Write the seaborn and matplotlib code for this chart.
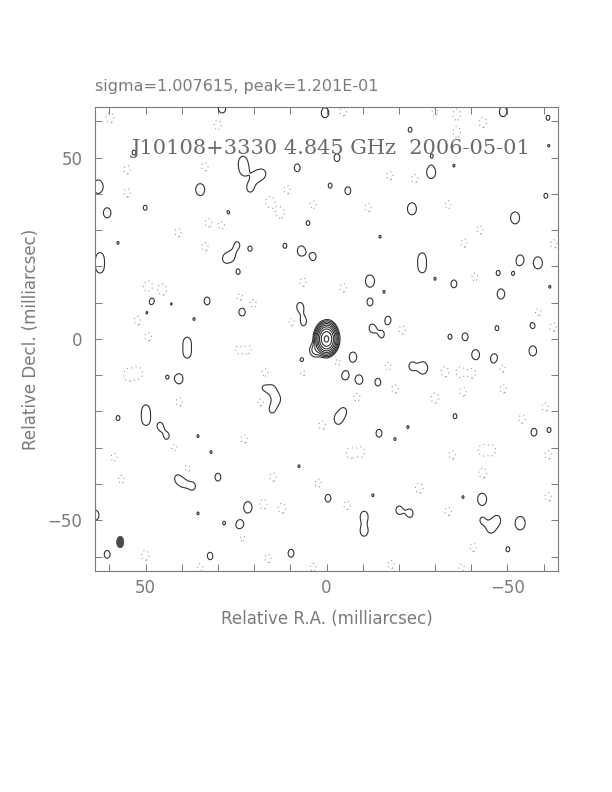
import numpy as np
import matplotlib
matplotlib.use("Agg")
import matplotlib.pyplot as plt
from matplotlib.patches import Ellipse
from matplotlib.ticker import MultipleLocator
import seaborn as sns

# positive noise peaks (RA, Dec in mas, peak in units of lowest contour)
pos_ra = [28.9, 0.4, -48.8, -61.2, -23.1, -61.4, 53.2, 23.1, 22.8, 17.5, 21.1, 19.5,
          63.1, 34.9, 8.1, 60.6, 50.1, 27.2, 5.1, 57.6, 24.7, 21.1, 11.5, 7.0,
          3.7, 28.0, 26.1, 62.6, 62.6, 24.4, 48.2, 42.9, 33.0, 49.9, 23.3, 36.6,
          7.3, 6.5, 23.3, -2.9, -29.1, -28.9, -35.2, -1.0, -5.9, -23.6, -60.6, -52.1,
          -14.8, -26.4, -26.4, -53.5, -58.4, -47.4, -51.5, -12.0, -30.0, -35.2, -15.9, -61.7,
          -12.0, -48.2, -17.0, -12.6, -47.1, -57.0, -15.3, -34.1, -38.3, -7.3, -41.2, -46.4,
          -57.0, -5.1, -9.0, -14.2, -23.6, -26.7, -4.8, -3.2, -35.5, -22.5, -14.5, -18.9,
          -57.3, -61.5, -0.4, -12.8, -37.7, -43.0, -10.4, -20.0, -23.1, -10.4, -43.0, -45.4,
          -47.1, -53.5, -50.1, -34.9, 38.5, 38.5, 6.8, 44.1, 40.7, 17.3, 15.0, 13.6,
          15.1, 57.6, 49.9, 49.9, 46.0, 44.0, 35.5, 31.9, 7.6, 41.3, 39.5, 37.0,
          30.0, 63.9, 35.5, 23.9, 21.7, 28.3, 60.6, 32.2, 9.8]
pos_dec = [63.5, 62.4, 62.7, 61.0, 57.7, 53.3, 51.4, 49.0, 46.5, 45.6, 41.7, 44.8,
           42.0, 41.2, 47.2, 34.8, 36.2, 34.8, 32.0, 26.5, 26.0, 24.9, 25.7, 24.3,
           22.7, 22.1, 22.9, 22.5, 19.5, 18.5, 10.8, 9.7, 10.5, 6.9, 7.7, 5.5,
           8.8, 4.8, 0.6, 50.0, 50.6, 45.9, 47.8, 42.3, 40.9, 35.9, 39.5, 33.4,
           28.2, 22.5, 19.5, 21.8, 21.0, 18.2, 18.0, 16.0, 16.6, 15.2, 13.0, 14.4,
           10.2, 12.4, 5.2, 3.0, 3.0, 3.9, 1.1, 0.6, 0.6, -5.0, -4.4, -5.5,
           -3.3, -9.9, -11.3, -11.9, -7.5, -8.0, -19.9, -22.1, -21.3, -24.3, -26.0, -27.6,
           -25.7, -25.1, -43.9, -43.1, -43.6, -44.2, -48.9, -47.2, -48.1, -53.0, -50.0, -52.2,
           -50.0, -50.8, -58.0, -61.0, -0.8, -4.0, -6.1, -10.5, -11.0, -13.5, -14.0, -16.6,
           -19.3, -21.8, -19.5, -22.5, -24.0, -27.0, -26.8, -31.2, -35.1, -38.4, -39.5, -40.6,
           -38.1, -48.6, -48.1, -51.4, -46.4, -50.8, -59.4, -59.9, -59.1]
pos_peak = [1.45, 1.45, 1.45, 1.1, 1.1, 1.03, 1.1, 1.35, 1.35, 1.1, 1.3, 1.3,
            1.95, 1.7, 1.25, 1.45, 1.1, 1.1, 1.1, 1.03, 1.1, 1.1, 1.1, 1.45,
            1.25, 1.1, 1.03, 1.35, 1.35, 1.1, 1.25, 1.03, 1.25, 1.1, 1.45, 1.03,
            1.35, 1.35, 1.1, 1.25, 1.03, 1.7, 1.03, 1.1, 1.25, 1.7, 1.1, 1.7,
            1.03, 1.3, 1.3, 1.45, 1.7, 1.1, 1.03, 1.7, 1.03, 1.25, 1.03, 1.03,
            1.25, 1.45, 1.25, 1.25, 1.1, 1.25, 1.1, 1.1, 1.25, 1.45, 1.5, 1.5,
            1.45, 1.45, 1.45, 1.25, 1.25, 1.7, 1.1, 1.45, 1.1, 1.03, 1.25, 1.03,
            1.25, 1.1, 1.25, 1.03, 1.03, 1.7, 1.45, 1.25, 1.25, 1.45, 1.1, 1.35,
            1.35, 1.95, 1.1, 1.03, 1.35, 1.35, 1.25, 1.03, 1.45, 1.1, 1.2, 1.2,
            1.25, 1.1, 1.35, 1.35, 1.2, 1.2, 1.03, 1.03, 1.03, 1.03, 1.2, 1.2,
            1.25, 1.45, 1.03, 1.6, 1.6, 1.05, 1.25, 1.25, 1.25]

# negative noise troughs
neg_ra = [59.8, 30.0, 55.1, 55.1, 33.6, 10.9, 15.6, 12.8, 3.7, 28.9, 32.7, 41.0,
          33.6, 6.5, 49.3, 45.4, 23.9, 20.3, 52.1, 9.5, 49.3, -4.6, -30.0, -36.0,
          -36.0, -43.2, -17.5, -24.4, -11.5, -33.6, -42.4, -38.0, -62.8, -41.0, -4.6, -58.4,
          -20.9, -62.6, 54.8, 52.1, 17.0, 6.5, 24.4, 21.7, 40.7, 18.1, 1.2, 22.8,
          42.1, 58.7, 38.5, 56.7, 14.8, 2.3, 17.5, 12.3, 23.3, 50.1, 16.2, 34.9,
          3.7, -3.2, -17.0, -32.7, -36.9, -40.2, -48.5, -18.9, -8.4, -30.0, -37.7, -48.8,
          -60.4, -54.0, -6.5, -9.5, -34.7, -43.0, -45.7, -61.2, -43.2, -25.6, -5.7, -33.6,
          -61.2, -40.5, -17.8, -37.2]
neg_dec = [61.0, 59.1, 46.7, 40.3, 47.5, 41.2, 37.8, 34.8, 37.0, 31.5, 32.0, 29.3,
           25.4, 15.7, 14.4, 13.5, 11.3, 9.7, 5.2, 4.7, 0.6, 62.7, 62.7, 62.0,
           57.0, 59.7, 45.0, 44.2, 36.2, 37.0, 30.1, 26.5, 26.2, 17.1, 14.1, 7.2,
           2.5, 3.3, -9.9, -9.4, -9.4, -9.1, -2.8, -2.8, -17.4, -17.4, -23.8, -27.6,
           -29.8, -32.6, -35.9, -38.7, -38.1, -39.8, -45.6, -46.7, -54.7, -59.7, -60.5, -63.0,
           -63.0, -6.6, -7.5, -9.1, -9.1, -9.4, -8.0, -13.8, -16.0, -16.3, -14.6, -13.8,
           -18.8, -22.1, -31.5, -31.2, -32.0, -30.7, -30.7, -32.0, -37.0, -41.2, -45.9, -47.5,
           -43.6, -57.5, -62.2, -63.0]
neg_peak = [1.45, 1.45, 1.3, 1.3, 1.3, 1.3, 1.6, 1.6, 1.25, 1.3, 1.3, 1.3,
            1.3, 1.3, 1.7, 1.7, 1.3, 1.3, 1.45, 1.3, 1.3, 1.3, 1.25, 1.45,
            1.45, 1.45, 1.3, 1.3, 1.3, 1.25, 1.3, 1.3, 1.3, 1.25, 1.3, 1.3,
            1.3, 1.3, 1.7, 1.7, 1.3, 1.3, 1.3, 1.3, 1.3, 1.3, 1.3, 1.3,
            1.25, 1.25, 1.3, 1.25, 1.3, 1.3, 1.45, 1.45, 1.3, 1.45, 1.3, 1.25,
            1.25, 1.25, 1.25, 1.45, 1.45, 1.45, 1.3, 1.3, 1.3, 1.45, 1.3, 1.3,
            1.3, 1.3, 1.45, 1.45, 1.3, 1.45, 1.45, 1.3, 1.45, 1.45, 1.3, 1.3,
            1.3, 1.3, 1.3, 1.3]

# core components (RA, Dec, peak, width RA, width Dec)
core_ra = [0.0, 3.0, -0.5]
core_dec = [0.0, -3.0, 2.5]
core_peak = [300.0, 3.0, 3.0]
core_sx = [1.1, 1.1, 1.0]
core_sy = [1.55, 1.3, 1.3]

levels_neg = [-1.0]
levels_pos = [1, 2, 4, 8, 16, 32, 64, 128, 256]

beam_ra, beam_dec, beam_w, beam_h = 57.0, -56.0, 2.0, 3.2

title_top = "sigma=1.007615, peak=1.201E-01"
title_in = "J10108+3330 4.845 GHz  2006-05-01"

# image plane
g = np.arange(-64, 64.01, 0.2)
X, Y = np.meshgrid(g, g)
img = np.zeros_like(X)
sx, sy = 1.2, 1.6
for x0, y0, a in zip(pos_ra, pos_dec, pos_peak):
    img += a * np.exp(-((X - x0) ** 2 / (2 * sx ** 2) + (Y - y0) ** 2 / (2 * sy ** 2)))
for x0, y0, a in zip(neg_ra, neg_dec, neg_peak):
    img -= a * np.exp(-((X - x0) ** 2 / (2 * sx ** 2) + (Y - y0) ** 2 / (2 * sy ** 2)))
for x0, y0, a, cx, cy in zip(core_ra, core_dec, core_peak, core_sx, core_sy):
    img += a * np.exp(-((X - x0) ** 2 / (2 * cx ** 2) + (Y - y0) ** 2 / (2 * cy ** 2)))

sns.set_theme(style="ticks")
plt.rcParams['font.family'] = ['DejaVu Sans']
grey = "#7a7a7a"

fig = plt.figure(figsize=(6.12, 7.92), dpi=100)
ax = fig.add_axes([0.155, 0.279, 0.757, 0.586])

ax.contour(X, Y, img, levels=levels_neg, colors="#999999", linewidths=0.8,
           linestyles=[(0, (1, 3))])
ax.contour(X, Y, img, levels=levels_pos, colors="#333333", linewidths=0.8,
           linestyles="solid")
ax.add_patch(Ellipse((beam_ra, beam_dec), beam_w, beam_h, facecolor="#4a4a4a",
                     edgecolor="#4a4a4a", lw=0.5))

ax.set_xlim(64, -64)
ax.set_ylim(-64, 64)
ax.set_aspect("auto")
ax.xaxis.set_major_locator(MultipleLocator(50))
ax.yaxis.set_major_locator(MultipleLocator(50))
ax.xaxis.set_minor_locator(MultipleLocator(10))
ax.yaxis.set_minor_locator(MultipleLocator(10))
ax.tick_params(which="both", direction="in", length=5, width=0.7, color=grey,
               top=True, right=True, labelsize=12, labelcolor=grey)
ax.tick_params(axis="x", pad=6)
ax.tick_params(axis="y", pad=9)
for s in ax.spines.values():
    s.set_color(grey)
    s.set_linewidth(0.8)

ax.set_xlabel("Relative R.A. (milliarcsec)", color=grey, fontsize=12)
ax.set_ylabel("Relative Decl. (milliarcsec)", color=grey, fontsize=12)
ax.xaxis.set_label_coords(0.5, -0.083)
ax.yaxis.set_label_coords(-0.119, 0.5)

fig.text(0.155, 0.881, title_top, color=grey, fontsize=11.5, ha="left", va="bottom")
ax.text(0.51, 0.91, title_in, transform=ax.transAxes, ha="center", va="center",
        fontsize=15, color="#6a6a6a", family="DejaVu Serif")

fig.savefig("out.png", dpi=100)
